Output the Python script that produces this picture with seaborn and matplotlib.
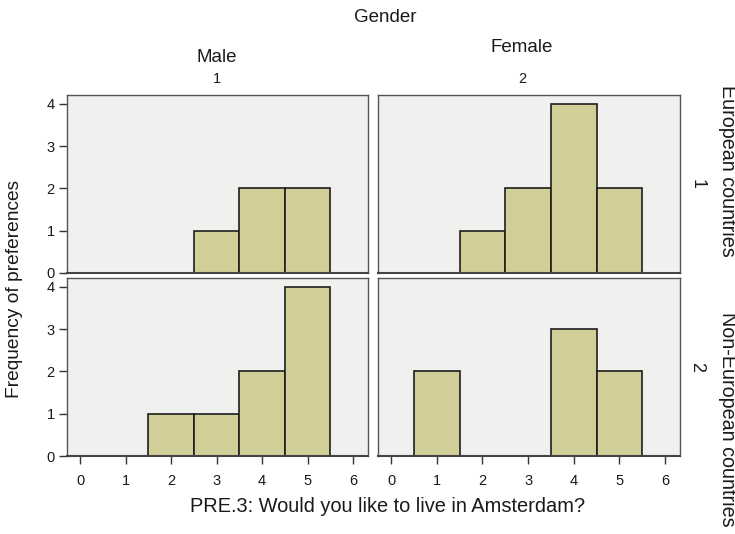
import matplotlib
matplotlib.use("Agg")
import matplotlib.pyplot as plt
import seaborn as sns
import numpy as np
import pandas as pd

sns.set_style("white")
plt.rcParams['font.family'] = ['Liberation Sans', 'DejaVu Sans']

# Data
scores = [1, 2, 3, 4, 5]
male_european = [0, 0, 1, 2, 2]
female_european = [0, 1, 2, 4, 2]
male_non_european = [0, 1, 1, 2, 4]
female_non_european = [2, 0, 0, 3, 2]

col_labels = ["Male", "Female"]
col_codes = ["1", "2"]
row_labels = ["European countries", "Non-European countries"]
row_codes = ["1", "2"]
x_ticks = [0, 1, 2, 3, 4, 5, 6]
y_ticks = [0, 1, 2, 3, 4]

panels = [[male_european, female_european],
          [male_non_european, female_non_european]]

W, H = 735, 534
fig = plt.figure(figsize=(W / 100, H / 100), dpi=100)

col_x = [(67, 368), (378, 680)]
row_y = [(95, 273), (278, 456)]

bg = "#F0F1EF"
bar_col = "#D2CE98"
edge = "#1E1E1E"
txt = "#1A1A1A"

for r in range(2):
    for c in range(2):
        x0, x1 = col_x[c]
        yt, yb = row_y[r]
        ax = fig.add_axes([x0 / W, 1 - yb / H, (x1 - x0) / W, (yb - yt) / H])
        ax.set_facecolor(bg)
        df = pd.DataFrame({"score": scores, "count": panels[r][c]})
        sns.histplot(data=df, x="score", weights="count", discrete=True,
                     color=bar_col, alpha=1, edgecolor=edge, linewidth=1.2, ax=ax)
        ax.set_xlim(-0.29, 6.33)
        ax.set_ylim(0, 4.21)
        ax.set_xlabel("")
        ax.set_ylabel("")
        for s in ax.spines.values():
            s.set_color("#555555")
            s.set_linewidth(1.0)
        ax.spines['bottom'].set_color("#444444")
        ax.spines['bottom'].set_linewidth(1.5)
        ax.set_xticks(x_ticks)
        ax.set_yticks(y_ticks)
        ax.tick_params(axis='both', which='both', direction='out', length=6,
                       width=1.0, color="#333333", labelsize=10.5, labelcolor=txt, pad=3)
        if r == 0:
            ax.tick_params(axis='x', bottom=False, labelbottom=False)
        else:
            ax.tick_params(axis='x', bottom=True, labelbottom=True, pad=7)
        if c == 1:
            ax.tick_params(axis='y', left=False, labelleft=False)
        else:
            ax.tick_params(axis='y', left=True, labelleft=True)

# Titles and labels
fig.text(385 / W, 1 - 17 / H, "Gender", ha="center", va="center", fontsize=13.5, color=txt)
fig.text(217 / W, 1 - 58 / H, col_labels[0], ha="center", va="center", fontsize=13.5, color=txt)
fig.text(522 / W, 1 - 48 / H, col_labels[1], ha="center", va="center", fontsize=13.5, color=txt)
fig.text(217 / W, 1 - 79 / H, col_codes[0], ha="center", va="center", fontsize=10.5, color=txt)
fig.text(522 / W, 1 - 79 / H, col_codes[1], ha="center", va="center", fontsize=10.5, color=txt)

fig.text(727 / W, 1 - 171 / H, row_labels[0], ha="center", va="center", rotation=-90,
         fontsize=14.2, color=txt)
fig.text(697 / W, 1 - 184 / H, row_codes[0], ha="center", va="center", rotation=-90,
         fontsize=13, color=txt)
fig.text(727 / W, 1 - 419 / H, row_labels[1], ha="center", va="center", rotation=-90,
         fontsize=14.2, color=txt)
fig.text(697 / W, 1 - 367 / H, row_codes[1], ha="center", va="center", rotation=-90,
         fontsize=13, color=txt)

fig.text(15 / W, 1 - 289 / H, "Frequency of preferences", ha="center", va="center",
         rotation=90, fontsize=13.8, color=txt)
fig.text(388 / W, 1 - 506 / H, "PRE.3: Would you like to live in Amsterdam?", ha="center",
         va="center", fontsize=14.4, color=txt)

fig.savefig("out.png", dpi=100)
